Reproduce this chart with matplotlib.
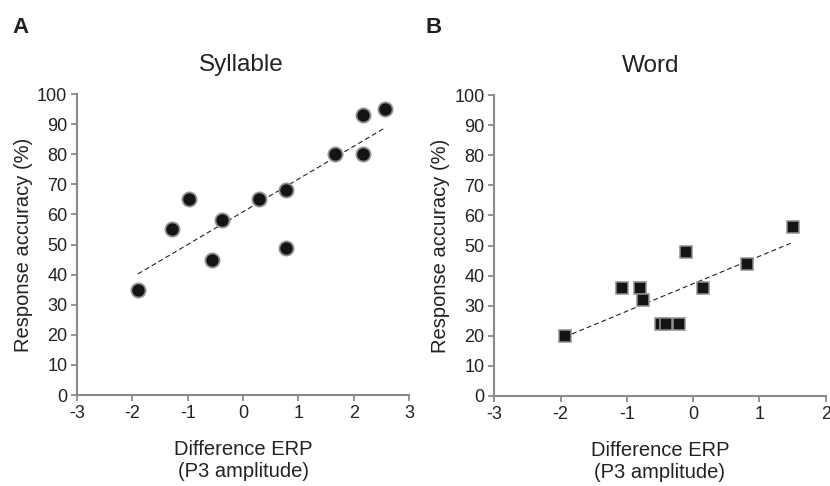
import numpy as np
import matplotlib
matplotlib.use("Agg")
import matplotlib.pyplot as plt

plt.rcParams['font.family'] = ['Liberation Sans', 'DejaVu Sans']

# Panel A: Syllable
syl_x = [-1.90, -1.29, -0.98, -0.56, -0.38, 0.28, 0.78, 0.78, 1.67, 2.16, 2.16, 2.57]
syl_y = [35, 55, 65, 45, 58, 65, 68, 49, 80, 93, 80, 95]

# Panel B: Word
word_x = [-1.94, -1.08, -0.80, -0.75, -0.49, -0.41, -0.21, -0.10, 0.15, 0.81, 1.50]
word_y = [20, 36, 36, 32, 24, 24, 24, 48, 36, 44, 56]

y_ticks = [0, 10, 20, 30, 40, 50, 60, 70, 80, 90, 100]
a_xticks = [-3, -2, -1, 0, 1, 2, 3]
b_xticks = [-3, -2, -1, 0, 1, 2]

titles = ["Syllable", "Word"]
panel_letters = ["A", "B"]
xlabel = "Difference ERP\n(P3 amplitude)"
ylabel = "Response accuracy (%)"

SPINE = '#8a8a8a'
TXT = '#222222'

fig = plt.figure(figsize=(8.3, 4.86), dpi=100)
axA = fig.add_axes([0.0928, 0.1872, 0.4000, 0.6193])
axB = fig.add_axes([0.5955, 0.1852, 0.3993, 0.6193])


def style(ax, xt, title, tx):
    for s in ['top', 'right']:
        ax.spines[s].set_visible(False)
    for s in ['left', 'bottom']:
        ax.spines[s].set_color(SPINE)
        ax.spines[s].set_linewidth(1.5)
    ax.set_xlim(xt[0], xt[-1])
    ax.set_ylim(0, 100)
    ax.set_xticks(xt)
    ax.set_xticklabels([str(v) for v in xt])
    ax.set_yticks(y_ticks)
    ax.tick_params(axis='both', direction='out', length=4, width=1.3,
                   color=SPINE, labelsize=13, labelcolor=TXT)
    ax.tick_params(axis='x', pad=3.5)
    ax.tick_params(axis='y', pad=3)
    ax.set_title(title, fontsize=17.5, color=TXT, pad=16.5, x=tx)
    ax.set_xlabel(xlabel, fontsize=14.5, color=TXT, labelpad=13, linespacing=1.2)
    ax.set_ylabel(ylabel, fontsize=14.5, color=TXT, labelpad=3)
    for lab in ax.get_xticklabels():
        lab.set_clip_on(False)


def trend(ax, x, y):
    x = np.asarray(x)
    y = np.asarray(y)
    k, b = np.polyfit(x, y, 1)
    xs = np.array([x.min(), x.max()])
    ax.plot(xs, k * xs + b, color='#222222', lw=0.8,
            linestyle=(0, (4.5, 2.7)), zorder=2)


style(axA, a_xticks, titles[0], 0.494)
trend(axA, syl_x, syl_y)
axA.plot(syl_x, syl_y, linestyle='none', marker='o', ms=10.2,
         mfc='#141414', mec='#909090', mew=1.3, zorder=3, clip_on=False)

style(axB, b_xticks, titles[1], 0.471)
trend(axB, word_x, word_y)
axB.plot(word_x, word_y, linestyle='none', marker='s', ms=8.8,
         mfc='#141414', mec='#909090', mew=1.1, zorder=3, clip_on=False)

fig.text(0.0145, 0.932, panel_letters[0], fontsize=16, fontweight='bold',
         color=TXT, va='baseline', ha='left')
fig.text(0.5125, 0.932, panel_letters[1], fontsize=16, fontweight='bold',
         color=TXT, va='baseline', ha='left')

fig.savefig("out.png", dpi=100)
